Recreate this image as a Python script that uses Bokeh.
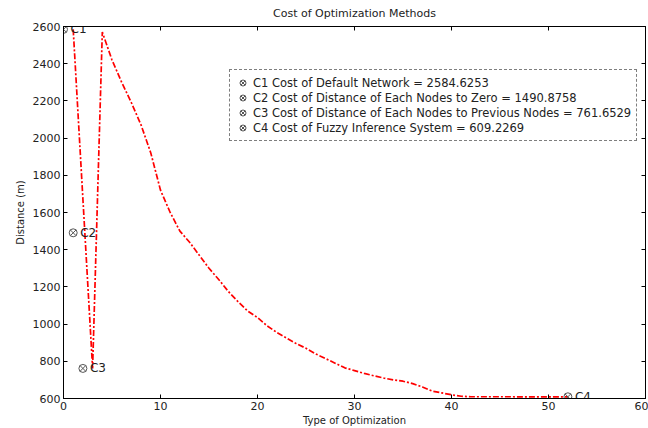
from bokeh.plotting import figure
from bokeh.models import Range1d, LinearAxis, Legend, LegendItem, FixedTicker
from bokeh.embed import file_html
from bokeh.resources import INLINE
from bokeh.core.properties import value

# ---- data ----
opt_type = [1, 3, 4, 5, 6, 7, 8, 9, 10, 11, 12, 13, 14, 15, 16, 17, 18, 19, 20,
            21, 22, 23, 24, 25, 26, 27, 28, 29, 30, 31, 32, 33, 34, 35, 36, 37,
            38, 39, 40, 41, 42, 44, 46, 48, 50, 52]
distance = [2584.6, 761.65, 2570, 2420, 2300, 2190, 2070, 1920, 1720, 1600,
            1500, 1440, 1370, 1300, 1240, 1175, 1120, 1070, 1035, 990, 955, 925,
            895, 870, 840, 815, 790, 765, 750, 735, 722, 710, 700, 693, 680, 662,
            640, 630, 620, 612, 609.5, 609.3, 609.3, 609.2, 609.2, 609.2]

cost_names = ["C1", "C2", "C3", "C4"]
cost_x = [0, 1, 2, 52]
cost_values = [2584.6253, 1490.8758, 761.6529, 609.2269]
cost_desc = ["Cost of Default Network",
             "Cost of Distance of Each Nodes to Zero",
             "Cost of Distance of Each Nodes to Previous Nodes",
             "Cost of Fuzzy Inference System"]

x_ticks = [0, 10, 20, 30, 40, 50, 60]
y_ticks = [600, 800, 1000, 1200, 1400, 1600, 1800, 2000, 2200, 2400, 2600]

FONT = "DejaVu Sans"
TXT = "#222222"

p = figure(width=648, height=428, output_backend="svg", toolbar_location=None,
           x_range=Range1d(0, 60), y_range=Range1d(600, 2600),
           min_border_left=63, min_border_right=3, min_border_top=26,
           min_border_bottom=29, background_fill_color="white",
           border_fill_color="white")
p.grid.visible = False
p.outline_line_color = "black"
p.outline_line_width = 1

p.title.text = "Cost of Optimization Methods"
p.title.align = "center"
p.title.vertical_align = "top"
p.title.text_font = FONT
p.title.text_font_style = "normal"
p.title.text_font_size = "11px"
p.title.text_color = TXT
p.title.standoff = 10
p.title.offset = 0

def style_axis(ax, ticks, show_labels=True):
    ax.ticker = FixedTicker(ticks=ticks)
    ax.axis_line_color = "black"
    ax.major_tick_line_color = "black"
    ax.minor_tick_line_color = None
    ax.major_tick_in = 4
    ax.major_tick_out = 0
    ax.major_label_text_font = FONT
    ax.major_label_text_font_size = "11px" if show_labels else "0px"
    ax.major_label_text_color = TXT
    ax.major_label_standoff = 3 if show_labels else 0
    ax.axis_label_text_font = FONT
    ax.axis_label_text_font_size = "10px"
    ax.axis_label_text_font_style = "normal"
    ax.axis_label_text_color = TXT
    ax.axis_label_standoff = 2

style_axis(p.xaxis[0], x_ticks)
style_axis(p.yaxis[0], y_ticks)
p.xaxis[0].axis_label = "Type of Optimization"
p.yaxis[0].axis_label = "Distance (m)"
p.yaxis[0].axis_label_standoff = 4

top_ax = LinearAxis()
style_axis(top_ax, x_ticks, show_labels=False)
p.add_layout(top_ax, "above")
right_ax = LinearAxis()
style_axis(right_ax, y_ticks, show_labels=False)
p.add_layout(right_ax, "right")

p.line(opt_type, distance, line_color="red", line_width=1.7, line_dash="6 2 2 2")

items = []
for i in range(4):
    r = p.scatter([cost_x[i]], [cost_values[i]], marker="circle_x", size=8,
                  line_color="#555555", fill_color=None, line_width=1)
    items.append(LegendItem(label=f"{cost_names[i]} {cost_desc[i]} = {cost_values[i]:.4f}",
                            renderers=[r]))

p.text(x=cost_x, y=cost_values, text=cost_names, x_offset=7,
       text_baseline="middle", text_align="left",
       text_font=value(FONT), text_font_size="12px", text_color=TXT)

legend = Legend(items=items, location=(166, 257))
legend.border_line_color = "black"
legend.border_line_dash = "1 2"
legend.border_line_width = 1
legend.background_fill_color = "white"
legend.background_fill_alpha = 1
legend.label_text_font = FONT
legend.label_text_font_size = "11.5px"
legend.label_text_color = TXT
legend.label_height = 15
legend.glyph_height = 15
legend.glyph_width = 15
legend.label_standoff = 3
legend.spacing = 0
legend.padding = 5
legend.margin = 0
p.add_layout(legend)

open("out.html", "w").write(file_html(p, INLINE))
